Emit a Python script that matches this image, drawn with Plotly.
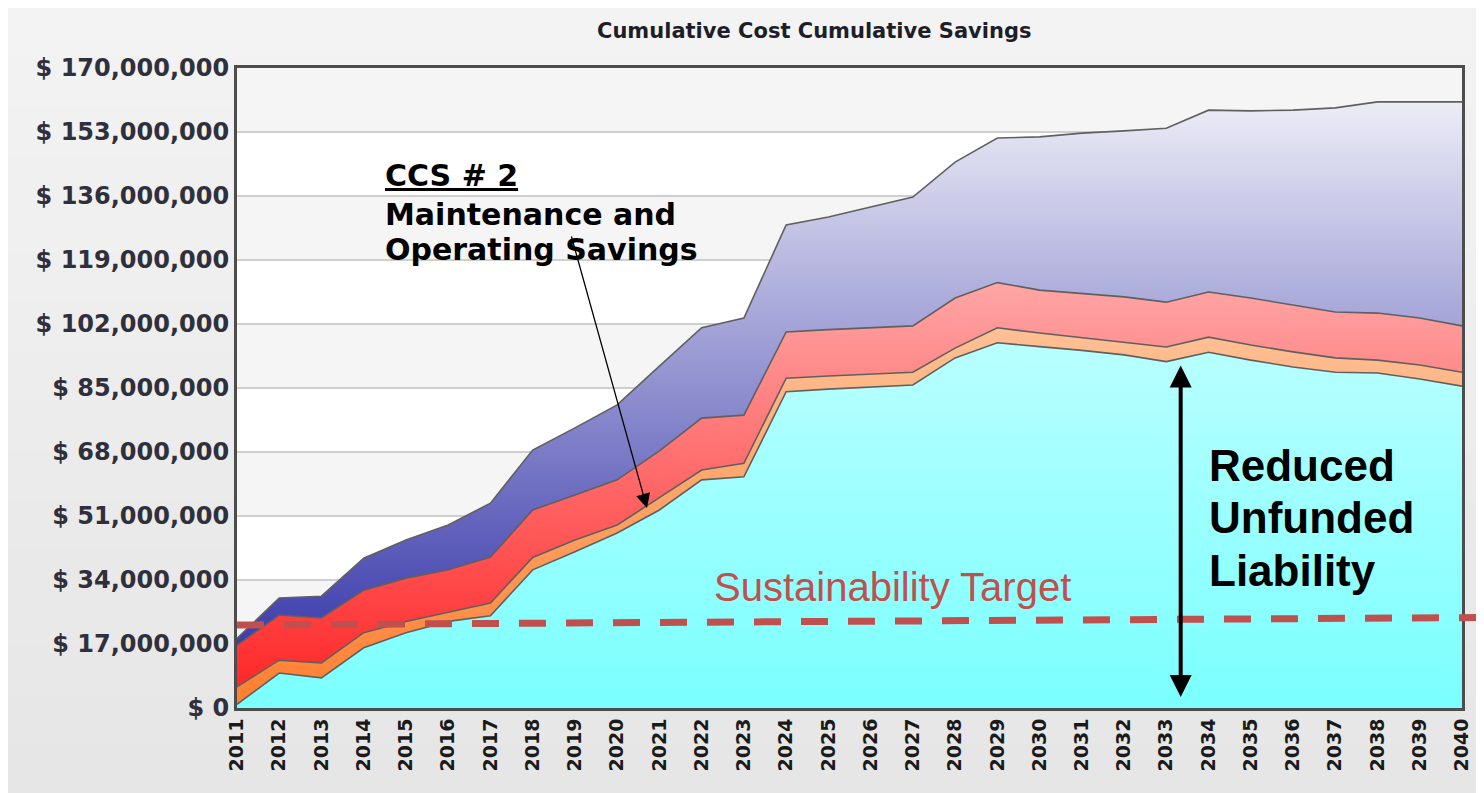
import plotly.graph_objects as go

# ---------------- data (values in millions of dollars) ----------------
years = [2011, 2012, 2013, 2014, 2015, 2016, 2017, 2018, 2019, 2020,
         2021, 2022, 2023, 2024, 2025, 2026, 2027, 2028, 2029, 2030,
         2031, 2032, 2033, 2034, 2035, 2036, 2037, 2038, 2039, 2040]

cyan_layer = [1.0, 9.3, 8.0, 16.0, 20.0, 23.0, 24.5, 36.7, 41.5, 46.5,
              52.6, 60.6, 61.4, 84.0, 84.7, 85.2, 85.8, 93.0, 97.0, 96.0,
              95.0, 93.8, 92.0, 94.5, 92.4, 90.6, 89.2, 89.0, 87.4, 85.5]
orange_layer = [4.6, 3.4, 4.0, 4.0, 3.0, 2.5, 3.4, 3.3, 3.1, 2.1,
                3.4, 2.6, 3.6, 3.6, 3.5, 3.5, 3.4, 2.6, 4.0, 3.6,
                3.3, 3.2, 3.9, 4.0, 4.0, 4.0, 3.8, 3.4, 3.7, 3.7]
red_layer = [11.1, 12.0, 11.9, 11.3, 11.5, 11.2, 12.2, 12.6, 12.0, 12.0,
             12.3, 13.8, 12.8, 12.3, 12.3, 12.3, 12.3, 13.3, 12.0, 11.4,
             11.9, 12.2, 11.9, 12.0, 12.5, 12.4, 12.2, 12.5, 12.5, 12.3]
blue_layer = [1.8, 4.5, 5.8, 8.5, 10.1, 11.9, 14.3, 15.9, 17.8, 19.9,
              22.5, 24.0, 25.8, 28.4, 29.9, 32.0, 34.2, 36.1, 38.4, 40.7,
              42.5, 44.1, 46.2, 48.3, 49.7, 51.8, 54.2, 56.1, 57.4, 59.5]

y_tick_values = [0, 17, 34, 51, 68, 85, 102, 119, 136, 153, 170]
y_tick_labels = ["$ 0", "$ 17,000,000", "$ 34,000,000", "$ 51,000,000",
                 "$ 68,000,000", "$ 85,000,000", "$ 102,000,000",
                 "$ 119,000,000", "$ 136,000,000", "$ 153,000,000",
                 "$ 170,000,000"]

# ---------------- layout geometry (page pixels) ----------------
PAGE_W, PAGE_H = 1484, 793
OFF = 8                      # default body margin of the html page
W, H = PAGE_W - OFF, PAGE_H - OFF
L, R, T, B = 237, 1465, 68, 708   # plot area in page pixels
PW, PH = R - L, B - T


def px_x(p):
    return (p - L) / PW


def px_y(p):
    return (B - p) / PH


fig = go.Figure()

layers = [
    ("Unfunded liability", cyan_layer, ["#7BFFFF", "#E8FFFF"]),
    ("CCS # 2 Maintenance and Operating Savings", orange_layer, ["#FF7E2E", "#FFEEDD"]),
    ("Savings layer 3", red_layer, ["#FF2222", "#FFE8E8"]),
    ("Savings layer 4", blue_layer, ["#2828A4", "#F7F7FB"]),
]
for name, vals, cols in layers:
    fig.add_trace(go.Scatter(
        x=years, y=vals, name=name, mode="lines", stackgroup="one",
        line=dict(color="#606060", width=1.6),
        fillgradient=dict(type="vertical", colorscale=[[0, cols[0]], [1, cols[1]]],
                          start=0, stop=170),
        hoverinfo="x+y+name",
    ))

shapes = []
# paper background soft vertical gradient
n = 16
for i in range(n):
    t = i / (n - 1)
    g = int(round(0xF3 - t * (0xF3 - 0xE6)))
    col = f"rgb({g},{g},{g})"
    top = OFF + i * (PAGE_H - OFF) / n
    bot = OFF + (i + 1) * (PAGE_H - OFF) / n + 1
    shapes.append(dict(type="rect", xref="paper", yref="paper", layer="below",
                       x0=px_x(OFF - 2), x1=px_x(PAGE_W + 5), y0=px_y(bot), y1=px_y(top),
                       fillcolor=col, line=dict(width=0)))
# plot area white then alternating grey bands
shapes.append(dict(type="rect", xref="paper", yref="paper", layer="below",
                   x0=0, x1=1, y0=0, y1=1, fillcolor="white", line=dict(width=0)))
for lo in [17, 51, 85, 119, 153]:
    shapes.append(dict(type="rect", xref="paper", yref="y", layer="below",
                       x0=0, x1=1, y0=lo, y1=lo + 17,
                       fillcolor="#F5F5F5", line=dict(width=0)))
# sustainability target dashed line
shapes.append(dict(type="line", xref="paper", yref="paper", layer="above",
                   x0=px_x(237), y0=px_y(625), x1=px_x(1490), y1=px_y(617.5),
                   line=dict(color="#C0504D", width=7, dash="27px,20px")))

annotations = [
    dict(text="<b>Cumulative Cost Cumulative Savings</b>", xref="paper", yref="paper",
         x=px_x(815), y=px_y(31), xanchor="center", yanchor="middle", showarrow=False,
         font=dict(family="DejaVu Sans", size=21, color="#1E1E2A")),
    dict(text="<b><u>CCS # 2</u></b>", xref="paper", yref="paper",
         x=px_x(383), y=px_y(176), xanchor="left", yanchor="middle", showarrow=False,
         font=dict(family="DejaVu Sans", size=30, color="black")),
    dict(text="<b>Maintenance and</b>", xref="paper", yref="paper",
         x=px_x(383), y=px_y(214), xanchor="left", yanchor="middle", showarrow=False,
         font=dict(family="DejaVu Sans", size=30, color="black")),
    dict(text="<b>Operating Savings</b>", xref="paper", yref="paper",
         x=px_x(383), y=px_y(249), xanchor="left", yanchor="middle", showarrow=False,
         font=dict(family="DejaVu Sans", size=30, color="black")),
    dict(text="Sustainability Target", xref="paper", yref="paper",
         x=px_x(713), y=px_y(587), xanchor="left", yanchor="middle", showarrow=False,
         font=dict(family="Liberation Sans", size=40, color="#C0504D")),
    dict(text="<b>Reduced</b>", xref="paper", yref="paper",
         x=px_x(1209), y=px_y(465), xanchor="left", yanchor="middle", showarrow=False,
         font=dict(family="Liberation Sans", size=44, color="black")),
    dict(text="<b>Unfunded</b>", xref="paper", yref="paper",
         x=px_x(1209), y=px_y(517), xanchor="left", yanchor="middle", showarrow=False,
         font=dict(family="Liberation Sans", size=44, color="black")),
    dict(text="<b>Liability</b>", xref="paper", yref="paper",
         x=px_x(1209), y=px_y(570), xanchor="left", yanchor="middle", showarrow=False,
         font=dict(family="Liberation Sans", size=44, color="black")),
    # thin pointer arrow
    dict(text="", xref="paper", yref="paper", x=px_x(648), y=px_y(508),
         ax=572 - 648, ay=235 - 508, showarrow=True, arrowhead=2, arrowsize=2.2,
         arrowwidth=1.3, arrowcolor="black", standoff=0, startstandoff=0),
    # double-headed arrow
    dict(text="", xref="paper", yref="paper", x=px_x(1183), y=px_y(697),
         ax=0, ay=364 - 697, showarrow=True, arrowhead=2, arrowsize=1.1,
         arrowwidth=4, arrowcolor="black", arrowside="end+start",
         standoff=0, startstandoff=0),
]

fig.update_layout(
    width=W, height=H,
    margin=dict(l=L - OFF, r=PAGE_W - R, t=T - OFF, b=PAGE_H - B, pad=0),
    paper_bgcolor="#ECECEC",
    plot_bgcolor="rgba(0,0,0,0)",
    showlegend=False,
    shapes=shapes,
    annotations=annotations,
    xaxis=dict(range=[2011, 2040], tickmode="array", tickvals=years,
               ticktext=[str(y) for y in years], tickangle=-90,
               tickfont=dict(family="DejaVu Sans", size=19, color="#1A1A1A", weight="bold"),
               showgrid=False, zeroline=False, showline=True, mirror=True,
               linecolor="#4D4D4D", linewidth=3, ticks=""),
    yaxis=dict(range=[0, 170], tickmode="array", tickvals=y_tick_values,
               ticktext=y_tick_labels,
               tickfont=dict(family="DejaVu Sans", size=24, color="#30303C", weight="bold"),
               showgrid=True, gridcolor="#CFCFCF", gridwidth=2, zeroline=False,
               showline=True, mirror=True, linecolor="#4D4D4D", linewidth=3, ticks=""),
)

fig.write_html("out.html")
